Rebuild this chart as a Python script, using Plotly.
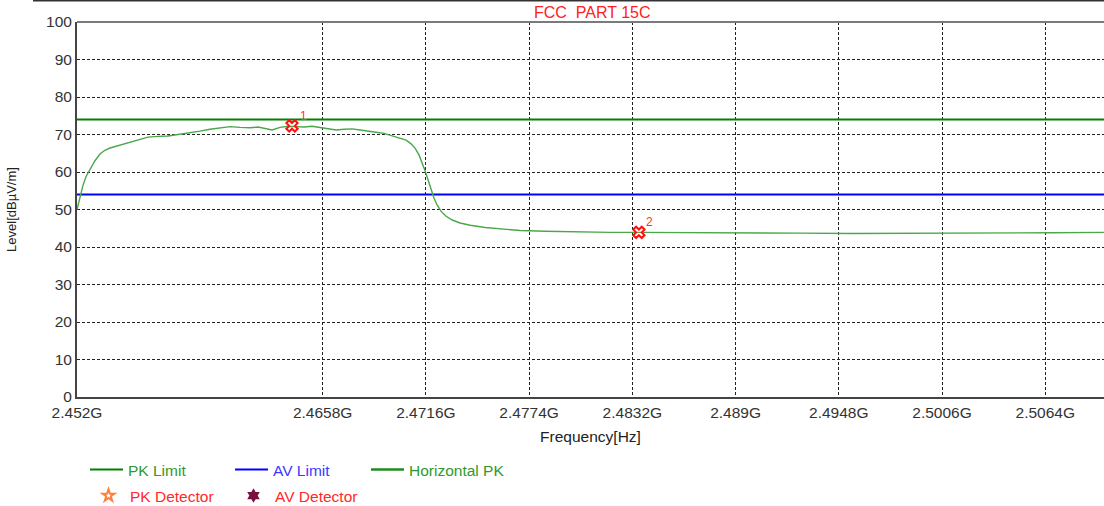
import plotly.graph_objects as go

# Measured sweep (frequency in GHz, level in dBµV/m)
freq_ghz = [
    2.45200, 2.45217, 2.45234, 2.45251, 2.45273, 2.45301, 2.45329, 2.45357, 2.45385, 2.45430,
    2.45470, 2.45509, 2.45554, 2.45599, 2.45655, 2.45711, 2.45768, 2.45835, 2.45891, 2.45947,
    2.46004, 2.46060, 2.46116, 2.46172, 2.46217, 2.46257, 2.46296, 2.46341, 2.46386, 2.46431,
    2.46476, 2.46521, 2.46566, 2.46611, 2.46656, 2.46701, 2.46746, 2.46790, 2.46835, 2.46880,
    2.46925, 2.46970, 2.47015, 2.47049, 2.47077, 2.47100, 2.47122, 2.47139, 2.47156, 2.47173,
    2.47189, 2.47206, 2.47223, 2.47246, 2.47274, 2.47308, 2.47352, 2.47409, 2.47493, 2.47577,
    2.47690, 2.47830, 2.47999, 2.48195, 2.48364, 2.48589, 2.48814, 2.49038, 2.49263, 2.49544,
    2.49825, 2.50106, 2.50387, 2.50668, 2.50972,
]
level_dbuv = [
    50.0, 53.5, 56.5, 58.8, 60.8, 63.0, 64.8, 65.8, 66.4, 67.0,
    67.5, 68.1, 68.8, 69.3, 69.5, 69.6, 70.0, 70.4, 70.9, 71.4,
    71.8, 72.1, 71.9, 71.8, 72.0, 71.6, 71.2, 71.9, 72.2, 72.1,
    72.0, 72.2, 71.9, 71.4, 71.2, 71.4, 71.5, 71.2, 70.8, 70.6,
    70.3, 69.6, 69.1, 68.5, 67.5, 66.3, 64.5, 62.5, 60.3, 57.8,
    55.2, 53.0, 51.2, 49.5, 48.2, 47.2, 46.4, 45.8, 45.2, 44.8,
    44.4, 44.2, 44.0, 43.9, 43.9, 43.8, 43.8, 43.7, 43.7, 43.6,
    43.6, 43.7, 43.7, 43.8, 43.9,
]

# Limits
pk_limit = 74.0
av_limit = 54.0
freq_span = [2.4520, 2.5097]

# Marked points
marker_ids = ["1", "2"]
marker_freq = [2.46408, 2.48357]
marker_level = [72.3, 43.9]

# Axis ticks
x_tickvals = [2.452, 2.4658, 2.4716, 2.4774, 2.4832, 2.489, 2.4948, 2.5006, 2.5064]
x_ticktext = ["2.452G", "2.4658G", "2.4716G", "2.4774G", "2.4832G",
              "2.489G", "2.4948G", "2.5006G", "2.5064G"]
y_tickvals = [0, 10, 20, 30, 40, 50, 60, 70, 80, 90, 100]

FONT = "Liberation Sans, Arial, sans-serif"
CW, CH = 1104, 506

# plot area in pixels: left 77, right 1104, top 22, bottom 397
L, R, T, B = 77, 1104, 22, 397
W, H = R - L, B - T


def px(xp):
    return (xp - L) / W


def py(yp):
    return (B - yp) / H


def cx(xp):
    return xp / CW


def cy(yp):
    return (CH - yp) / CH


fig = go.Figure()

fig.add_trace(go.Scatter(
    x=freq_span, y=[pk_limit, pk_limit], mode="lines",
    line=dict(color="#008000", width=2),
    name='<span style="color:#2e9a2e">PK Limit</span>', legend="legend",
))
fig.add_trace(go.Scatter(
    x=freq_span, y=[av_limit, av_limit], mode="lines",
    line=dict(color="#0000ff", width=2),
    name='<span style="color:#3a3aff">AV Limit</span>', legend="legend2",
))
fig.add_trace(go.Scatter(
    x=freq_ghz, y=level_dbuv, mode="lines",
    line=dict(color="#4aa84a", width=1.4),
    legendgroup="hpk", showlegend=False,
))
# legend swatch for the sweep, drawn with a heavier stroke
fig.add_trace(go.Scatter(
    x=[None], y=[None], mode="lines",
    line=dict(color="#1e8c1e", width=2.5),
    legendgroup="hpk",
    name='<span style="color:#2e9a2e">Horizontal PK</span>', legend="legend3",
))
fig.add_trace(go.Scatter(
    x=[None], y=[None], mode="markers",
    marker=dict(symbol="star-open", size=9, color="#ff7f3f", line=dict(width=2)),
    name='<span style="color:#ff2a2a">PK Detector</span>', legend="legend4",
))
fig.add_trace(go.Scatter(
    x=[None], y=[None], mode="markers",
    marker=dict(symbol="hexagram", size=11, color="#7a1040"),
    name='<span style="color:#ff2a2a">AV Detector</span>', legend="legend5",
))
fig.add_trace(go.Scatter(
    x=marker_freq, y=marker_level, mode="markers",
    marker=dict(symbol="x-open", size=10, color="#ff1010", line=dict(width=2, color="#ff1010")),
    showlegend=False,
))

for mid, fx, ly in zip(marker_ids, marker_freq, marker_level):
    fig.add_annotation(
        x=fx, y=ly, text=mid, showarrow=False, xref="x", yref="y",
        xshift=11, yshift=10, font=dict(family=FONT, size=12, color="#ff3030"),
    )

# title
fig.add_annotation(
    x=px(592), y=py(12), xref="paper", yref="paper", showarrow=False,
    xanchor="center", yanchor="middle",
    text="FCC\u00a0\u00a0PART 15C", font=dict(family=FONT, size=16, color="#ff2020"),
)

# frame lines above the plot area
fig.add_shape(type="line", xref="paper", yref="paper",
              x0=px(33), x1=1.0, y0=py(0.5), y1=py(0.5),
              line=dict(color="#333333", width=2))
fig.add_shape(type="line", xref="paper", yref="paper",
              x0=0, x1=1.0, y0=1, y1=1,
              line=dict(color="#7a7a7a", width=2))

legend_common = dict(
    orientation="h", xanchor="left", yanchor="middle",
    xref="container", yref="container",
    bgcolor="rgba(0,0,0,0)", borderwidth=0,
    font=dict(family=FONT, size=15.5), itemwidth=33,
)

fig.update_layout(
    width=CW, height=CH,
    margin=dict(l=L, r=CW - R, t=T, b=CH - B, autoexpand=False),
    paper_bgcolor="white", plot_bgcolor="white",
    font=dict(family=FONT, size=15.5, color="#333333"),
    legend=dict(x=cx(85), y=cy(470), **legend_common),
    legend2=dict(x=cx(230), y=cy(470), **legend_common),
    legend3=dict(x=cx(366), y=cy(470), **legend_common),
    legend4=dict(x=cx(87), y=cy(496), **legend_common),
    legend5=dict(x=cx(232), y=cy(496), **legend_common),
    xaxis=dict(
        range=freq_span, tickvals=x_tickvals, ticktext=x_ticktext,
        showgrid=True, gridcolor="#222222", gridwidth=1, griddash="3px,2px",
        showline=True, linecolor="#444444", linewidth=2,
        ticks="", zeroline=False, automargin=False,
        tickfont=dict(family=FONT, size=15.5, color="#333333"),
        title=dict(text="Frequency[Hz]", font=dict(family=FONT, size=15.5, color="#222222"),
                   standoff=12),
    ),
    yaxis=dict(
        range=[0, 100], tickvals=y_tickvals,
        showgrid=True, gridcolor="#222222", gridwidth=1, griddash="3px,2px",
        showline=True, linecolor="#444444", linewidth=2,
        ticks="", zeroline=False, automargin=False,
        tickfont=dict(family=FONT, size=15.5, color="#333333"),
        title=dict(text="Level[dBµV/m]", font=dict(family=FONT, size=13, color="#222222"),
                   standoff=26),
    ),
)

fig.write_html("out.html")
